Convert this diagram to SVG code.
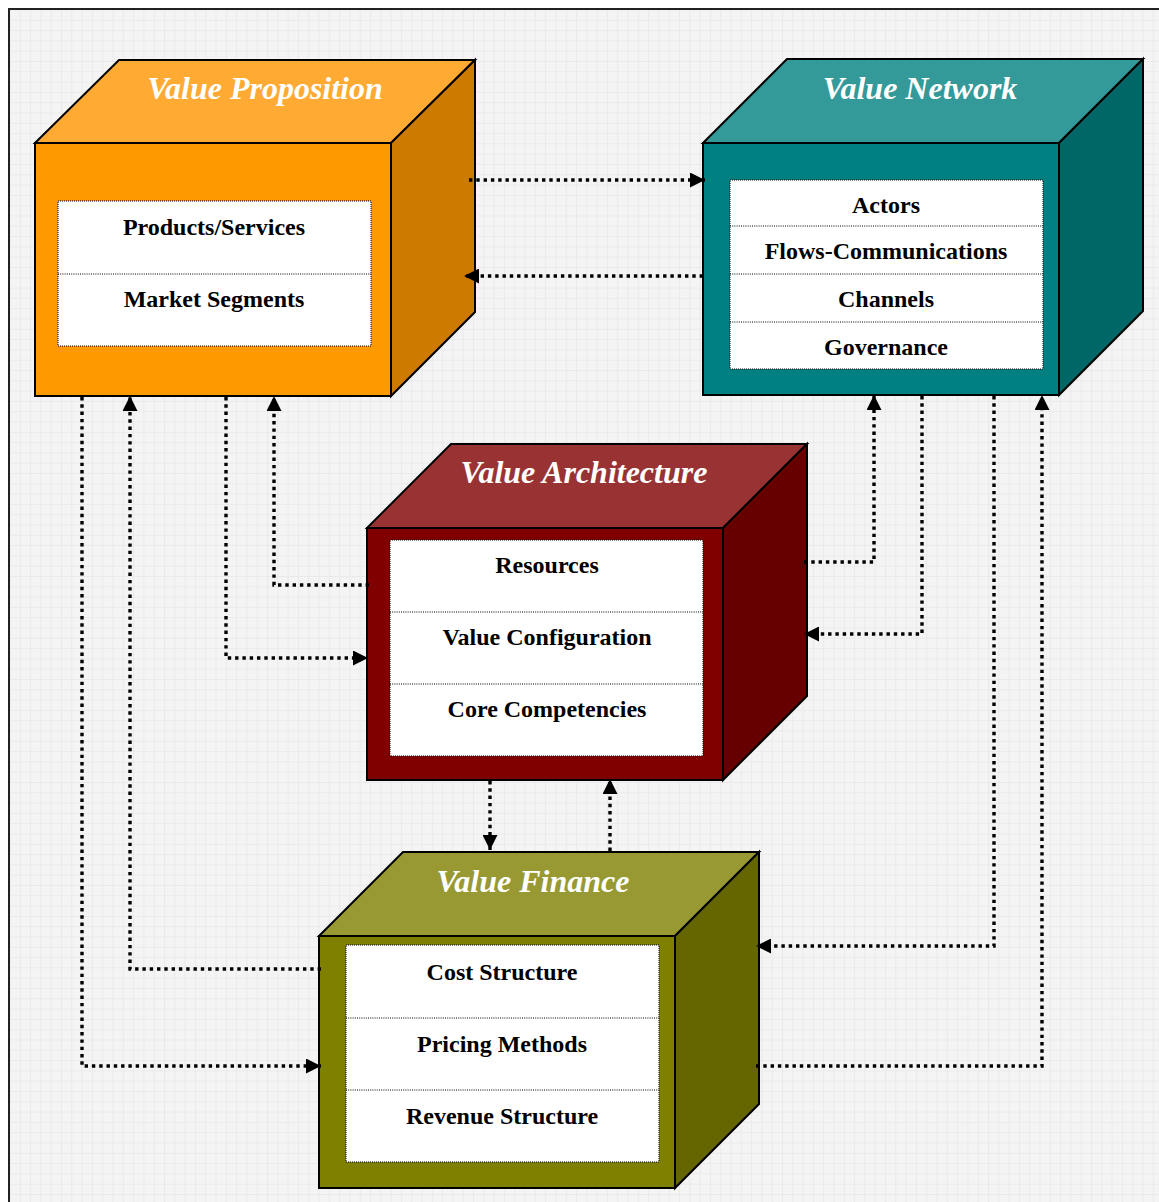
<svg xmlns="http://www.w3.org/2000/svg" width="1159" height="1202" viewBox="0 0 1159 1202">
  <defs>
    <pattern id="grid" x="9.5" y="9.5" width="10.3" height="10.3" patternUnits="userSpaceOnUse">
      <rect width="10.3" height="10.3" fill="#f4f4f4"/>
      <path d="M0,0.5 H10.3 M0.5,0 V10.3" stroke="#eaeaea" stroke-width="1" fill="none"/>
    </pattern>
    <marker id="arrow" viewBox="0 0 15 15" markerWidth="15" markerHeight="15" refX="15" refY="7.5" orient="auto" markerUnits="userSpaceOnUse">
      <path d="M0,0 L15,7.5 L0,15 z" fill="#000"/>
    </marker>
    <style>
      .edge { fill: none; stroke: #000; stroke-width: 3.4; stroke-dasharray: 3.4 3.9; marker-end: url(#arrow); }
      .face { stroke: #000; stroke-width: 2; stroke-linejoin: miter; }
      .panel { fill: #fff; stroke: #000; stroke-width: 1; stroke-dasharray: 1 1; }
      .sep { stroke: #000; stroke-width: 1; stroke-dasharray: 1 1.2; }
      .title { font-family: "Liberation Serif", "Times New Roman", serif; font-size: 32px; font-weight: bold; font-style: italic; fill: #fff; text-anchor: middle; }
      .item { font-family: "Liberation Serif", "Times New Roman", serif; font-size: 24px; font-weight: bold; fill: #000; text-anchor: middle; }
    </style>
  </defs>

  <!-- page and frame -->
  <rect x="0" y="0" width="1159" height="1202" fill="#fff"/>
  <rect x="9" y="9" width="1160" height="1200" fill="url(#grid)"/>
  <path d="M9,1210 V9 H1170" fill="none" stroke="#222" stroke-width="2"/>

  <!-- Value Proposition -->
  <g id="value-proposition">
    <polygon class="face" fill="#ffaa33" points="35,143 119,60 475,60 391,143"/>
    <polygon class="face" fill="#cc7a00" points="391,143 475,60 475,312 391,396"/>
    <rect class="face" fill="#ff9900" x="35" y="143" width="356" height="253"/>
    <text class="title" x="265" y="99">Value Proposition</text>
    <rect class="panel" x="58" y="201" width="313" height="145"/>
    <line class="sep" x1="58" y1="274" x2="371" y2="274"/>
    <text class="item" x="214" y="235">Products/Services</text>
    <text class="item" x="214" y="307">Market Segments</text>
  </g>

  <!-- Value Network -->
  <g id="value-network">
    <polygon class="face" fill="#339999" points="703,143 787,59 1143,59 1059,143"/>
    <polygon class="face" fill="#006666" points="1059,143 1143,59 1143,311 1059,395"/>
    <rect class="face" fill="#008080" x="703" y="143" width="356" height="252"/>
    <text class="title" x="920" y="99">Value Network</text>
    <rect class="panel" x="730" y="180" width="313" height="189"/>
    <line class="sep" x1="730" y1="226" x2="1043" y2="226"/>
    <line class="sep" x1="730" y1="274" x2="1043" y2="274"/>
    <line class="sep" x1="730" y1="322" x2="1043" y2="322"/>
    <text class="item" x="886" y="213">Actors</text>
    <text class="item" x="886" y="259">Flows-Communications</text>
    <text class="item" x="886" y="307">Channels</text>
    <text class="item" x="886" y="355">Governance</text>
  </g>

  <!-- Value Architecture -->
  <g id="value-architecture">
    <polygon class="face" fill="#993333" points="367,528 451,444 807,444 723,528"/>
    <polygon class="face" fill="#660000" points="723,528 807,444 807,696 723,780"/>
    <rect class="face" fill="#800000" x="367" y="528" width="356" height="252"/>
    <text class="title" x="584" y="483">Value Architecture</text>
    <rect class="panel" x="390" y="540" width="313" height="216"/>
    <line class="sep" x1="390" y1="612" x2="703" y2="612"/>
    <line class="sep" x1="390" y1="684" x2="703" y2="684"/>
    <text class="item" x="547" y="573">Resources</text>
    <text class="item" x="547" y="645">Value Configuration</text>
    <text class="item" x="547" y="717">Core Competencies</text>
  </g>

  <!-- Value Finance -->
  <g id="value-finance">
    <polygon class="face" fill="#999933" points="319,936 403,852 759,852 675,936"/>
    <polygon class="face" fill="#666600" points="675,936 759,852 759,1104 675,1188"/>
    <rect class="face" fill="#808000" x="319" y="936" width="356" height="252"/>
    <text class="title" x="533" y="892">Value Finance</text>
    <rect class="panel" x="346" y="945" width="313" height="217"/>
    <line class="sep" x1="346" y1="1018" x2="659" y2="1018"/>
    <line class="sep" x1="346" y1="1090" x2="659" y2="1090"/>
    <text class="item" x="502" y="980">Cost Structure</text>
    <text class="item" x="502" y="1052">Pricing Methods</text>
    <text class="item" x="502" y="1124">Revenue Structure</text>
  </g>

  <!-- dotted connectors -->
  <g id="connectors">
    <path class="edge" d="M469,180 H705"/>
    <path class="edge" d="M703,276 H464"/>
    <path class="edge" d="M82,397 V1066 H321"/>
    <path class="edge" d="M321,969 H130 V396"/>
    <path class="edge" d="M226,397 V658 H368"/>
    <path class="edge" d="M369,585 H274 V396"/>
    <path class="edge" d="M804,562 H874 V395"/>
    <path class="edge" d="M922,396 V634 H804"/>
    <path class="edge" d="M994,396 V946 H756"/>
    <path class="edge" d="M756,1066 H1042 V395"/>
    <path class="edge" d="M490,781 V850"/>
    <path class="edge" d="M610,851 V779"/>
  </g>
</svg>
